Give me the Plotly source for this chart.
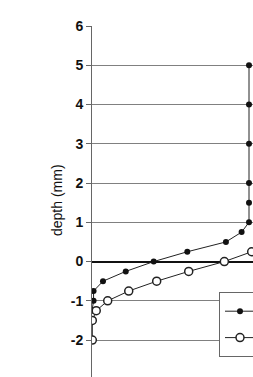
import plotly.graph_objects as go

# depth (mm) and relative value for the two series
depth_filled = [5, 4, 3, 2, 1.5, 1, 0.75, 0.5, 0.25, 0, -0.25, -0.5, -0.75, -1, -1.25]
value_filled = [1.0, 1.0, 1.0, 1.0, 1.0, 1.0, 0.953, 0.853, 0.607, 0.393, 0.215, 0.07, 0.01, 0.01, 0.0]

depth_open = [0.5, 0.25, 0, -0.25, -0.5, -0.75, -1, -1.25, -1.5, -2]
value_open = [1.15, 1.017, 0.843, 0.616, 0.412, 0.234, 0.10, 0.027, 0.002, 0.002]

y_ticks = [-3, -2, -1, 0, 1, 2, 3, 4, 5, 6]

fig = go.Figure()
fig.add_trace(go.Scatter(
    x=value_filled, y=depth_filled, mode="lines+markers", name="series 1",
    line=dict(color="#222222", width=1),
    marker=dict(symbol="circle", size=6, color="#111111"),
))
fig.add_trace(go.Scatter(
    x=value_open, y=depth_open, mode="lines+markers", name="series 2",
    line=dict(color="#222222", width=1),
    marker=dict(symbol="circle", size=8, color="white", line=dict(color="#222222", width=1.5)),
))

fig.update_layout(
    width=253, height=377,
    margin=dict(l=92, r=0, t=26, b=0, autoexpand=False),
    paper_bgcolor="white", plot_bgcolor="white",
    font=dict(family="Liberation Sans, Arial, sans-serif", color="#111111"),
    showlegend=True,
    legend=dict(
        xref="container", yref="container",
        x=219 / 253, y=(377 - 292) / 377,
        xanchor="left", yanchor="top",
        bgcolor="white", bordercolor="#666666", borderwidth=1,
        font=dict(size=18),
    ),
    xaxis=dict(
        range=[0, (253 - 92) / 157], showgrid=False, zeroline=False,
        showticklabels=False, ticks="", showline=False,
    ),
    yaxis=dict(
        range=[-2.94, 6], tickvals=y_ticks, ticktext=[str(v) for v in y_ticks],
        showgrid=True, gridcolor="#808080", gridwidth=1,
        zeroline=True, zerolinecolor="#111111", zerolinewidth=1.6,
        showline=True, linecolor="#666666", linewidth=1,
        ticks="outside", ticklen=5, tickcolor="#666666",
        tickfont=dict(size=14, weight="bold"),
    ),
    annotations=[dict(
        text="depth (mm)", textangle=-90, showarrow=False,
        xref="paper", yref="paper", x=(57 - 92) / 161, y=(377 - 200) / 351,
        xanchor="center", yanchor="middle", font=dict(size=14, color="#111111"),
    )],
)

fig.write_html("out.html")
